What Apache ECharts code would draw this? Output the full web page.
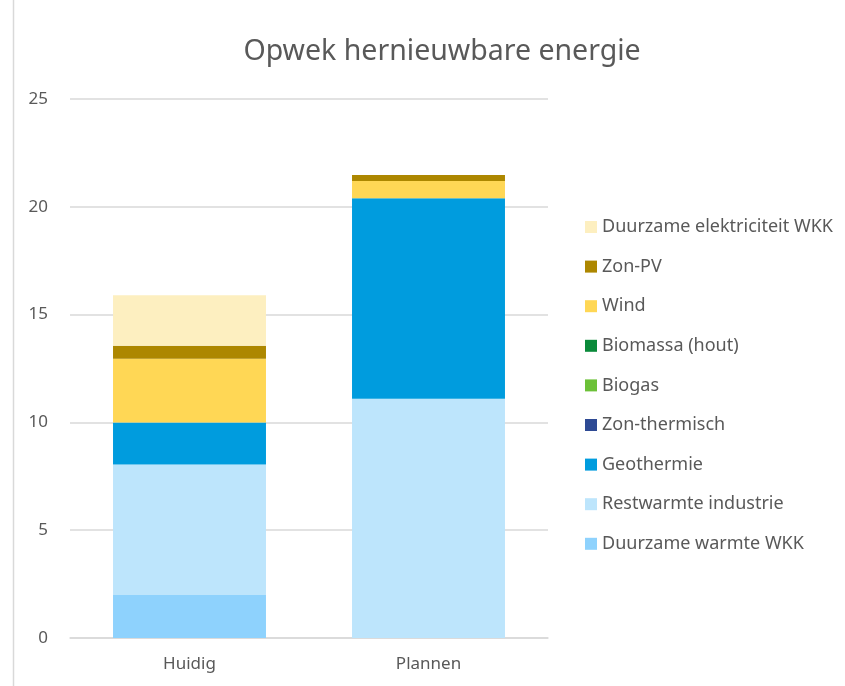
<!DOCTYPE html>
<html>
<head>
<meta charset="utf-8">
<script src="https://cdn.jsdelivr.net/npm/echarts@6/dist/echarts.min.js"></script>
<style>
  html, body { margin: 0; padding: 0; background: #fff; }
  #chart { width: 845px; height: 686px; }
</style>
</head>
<body>
<div id="chart"></div>
<script>
// categorieen en waarden
var categories = ['Huidig', 'Plannen'];
var seriesNames = ['Duurzame warmte WKK', 'Restwarmte industrie', 'Geothermie', 'Zon-thermisch',
  'Biogas', 'Biomassa (hout)', 'Wind', 'Zon-PV', 'Duurzame elektriciteit WKK'];
var duurzameWarmteWKK = [2.0, 0];
var restwarmteIndustrie = [6.05, 11.1];
var geothermie = [1.95, 9.3];
var zonThermisch = [0, 0];
var biogas = [0, 0];
var biomassa = [0, 0];
var wind = [2.95, 0.8];
var zonPV = [0.6, 0.28];
var duurzameElektriciteitWKK = [2.35, 0];
var yTicks = [0, 5, 10, 15, 20, 25];

var values = [duurzameWarmteWKK, restwarmteIndustrie, geothermie, zonThermisch,
  biogas, biomassa, wind, zonPV, duurzameElektriciteitWKK];
var colors = ['#8ED2FD', '#BDE5FC', '#009CDE', '#2E4A94', '#6CC138', '#0A8A3A', '#FFD755', '#AD8700', '#FDEFC0'];

var chart = echarts.init(document.getElementById('chart'));
var font = '"Noto Sans", sans-serif';

var series = seriesNames.map(function (name, i) {
  return {
    name: name,
    type: 'bar',
    stack: 'totaal',
    barWidth: '64%',
    data: values[i],
    itemStyle: { color: colors[i] }
  };
});

chart.setOption({
  animation: false,
  textStyle: { fontFamily: font },
  title: {
    text: 'Opwek hernieuwbare energie',
    left: 437,
    textAlign: 'center',
    top: 32,
    textStyle: { fontFamily: font, fontSize: 28.5, fontWeight: 'normal', color: '#595959' }
  },
  graphic: [{
    type: 'line',
    shape: { x1: 13.5, y1: 0, x2: 13.5, y2: 686 },
    style: { stroke: '#d9d9d9', lineWidth: 1.5 }
  }],
  legend: {
    orient: 'vertical',
    left: 580,
    top: 213,
    itemWidth: 12,
    itemHeight: 12,
    itemGap: 21.6,
    icon: 'rect',
    data: seriesNames.slice().reverse(),
    textStyle: { fontFamily: font, fontSize: 18, color: '#595959' }
  },
  grid: { left: 70, right: 297, top: 99, bottom: 48 },
  xAxis: {
    type: 'category',
    data: categories,
    axisLine: { lineStyle: { color: '#d9d9d9', width: 1.5 } },
    axisTick: { show: false },
    axisLabel: { color: '#595959', fontSize: 17, margin: 18, fontFamily: font }
  },
  yAxis: {
    type: 'value',
    min: yTicks[0],
    max: yTicks[yTicks.length - 1],
    interval: 5,
    axisLine: { show: false },
    axisTick: { show: false },
    axisLabel: { color: '#595959', fontSize: 17, margin: 22, fontFamily: font },
    splitLine: { lineStyle: { color: '#d9d9d9', width: 1.5 } }
  },
  series: series
});
</script>
</body>
</html>
